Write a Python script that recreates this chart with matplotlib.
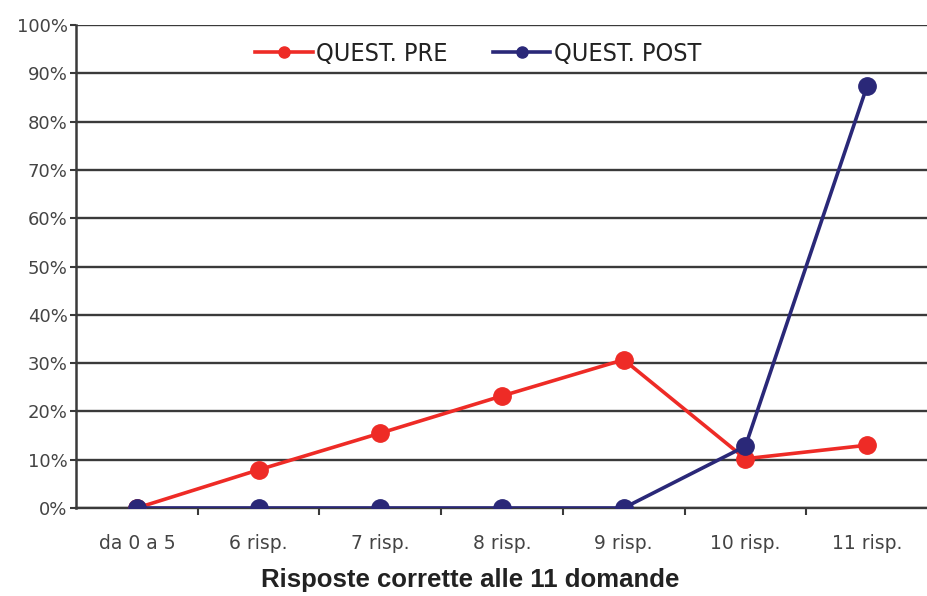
import numpy as np
import matplotlib
matplotlib.use('Agg')
from matplotlib import pyplot as plt
from matplotlib.ticker import FuncFormatter, FixedLocator

categories = ['da 0 a 5', '6 risp.', '7 risp.', '8 risp.', '9 risp.', '10 risp.', '11 risp.']
pre  = [0, 7.9, 15.5, 23.2, 30.7, 10.2, 13.0]
post = [0, 0, 0, 0, 0, 12.8, 87.4]
yticks = [0, 10, 20, 30, 40, 50, 60, 70, 80, 90, 100]

red = '#ee2b26'
navy = '#2a2878'
grid = '#3a3a3a'

fig = plt.figure(figsize=(9.28, 5.96), dpi=100)
ax = fig.add_axes([76/928, (596-508)/596, 1-76/928, (508-25)/596])

x = np.arange(len(categories))
ax.plot(x, pre, color=red, lw=2.6, marker='o', ms=12.5, label='QUEST. PRE', zorder=3)
ax.plot(x, post, color=navy, lw=2.6, marker='o', ms=12.5, label='QUEST. POST', zorder=4)

ax.set_xlim(-0.5, len(categories) - 0.5)
ax.set_ylim(0, 100)
ax.set_yticks(yticks)
ax.yaxis.set_major_formatter(FuncFormatter(lambda v, p: '%d%%' % v))
for t in yticks:
    ax.axhline(t, color=grid, lw=1.7, zorder=1)

ax.set_xticks(x)
ax.set_xticklabels(categories)
ax.xaxis.set_minor_locator(FixedLocator(x[:-1] + 0.5))
ax.tick_params(axis='x', which='major', length=0, pad=19, labelsize=13.5, labelcolor='#444444')
ax.tick_params(axis='x', which='minor', length=5, width=1.5, color=grid, direction='out')
ax.tick_params(axis='y', length=4, width=1.5, color=grid, labelsize=13, labelcolor='#444444', pad=2)
for lab in ax.get_xticklabels() + ax.get_yticklabels():
    lab.set_family('DejaVu Sans')

for s in ['top', 'right']:
    ax.spines[s].set_visible(False)
ax.spines['left'].set_color(grid)
ax.spines['left'].set_linewidth(1.8)
ax.spines['bottom'].set_color(grid)
ax.spines['bottom'].set_linewidth(1.7)
ax.spines['bottom'].set_zorder(2)

fig.text(470/928, 1 - 580/596, 'Risposte corrette alle 11 domande', fontsize=18.5,
         fontweight='bold', family='Liberation Sans', color='#222222', ha='center', va='center')

leg = ax.legend(loc='center', bbox_to_anchor=(0.472, 0.94), ncol=2, frameon=False,
                handlelength=2.3, columnspacing=1.8, handletextpad=0.15,
                prop={'family': 'DejaVu Sans', 'stretch': 'condensed', 'size': 18})
for h in leg.legend_handles:
    h.set_markersize(8)
for t in leg.get_texts():
    t.set_color('#222222')

fig.savefig('out.png', dpi=100, facecolor='white')
